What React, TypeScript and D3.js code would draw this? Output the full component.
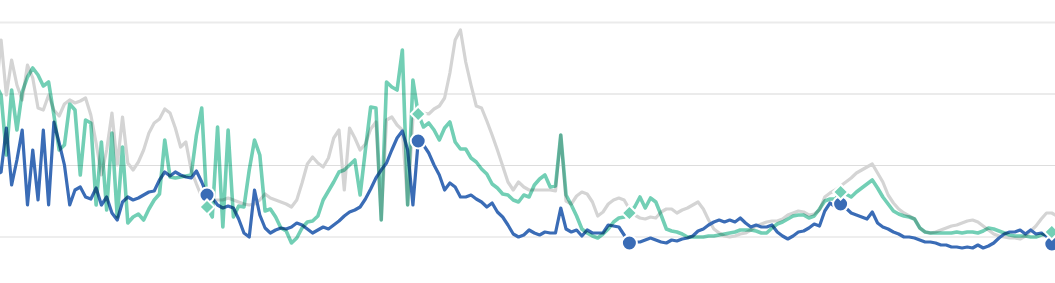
import React from 'react';
import * as d3 from 'd3';

const W = 1055;
const H = 283;

// hidden value axis: four horizontal gridlines
const gridValues = [0, 71.5, 143, 214.5];
// yearly markers (index into the weekly series)
const markerIndex = [40, 80, 120, 160, 200];

const grayValues = [
  142, 197, 142, 177, 152, 137, 172, 159, 129, 127,
  142, 127, 121, 133, 137, 134, 136, 139, 122, 94,
  62, 87, 124, 72, 120, 74, 67, 75, 87, 104,
  114, 118, 128, 124, 109, 90, 95, 67, 53, 40,
  37, 37, 37, 37, 39, 37, 35, 33, 32, 33,
  37, 43, 39, 37, 35, 33, 30, 37, 54, 73,
  80, 74, 70, 79, 99, 107, 47, 109, 99, 87,
  93, 108, 115, 17, 117, 120, 112, 107, 32, 118,
  124, 124, 123, 128, 131, 139, 164, 197, 207, 175,
  152, 131, 129, 116, 102, 87, 71, 55, 47, 55,
  50, 47, 47, 47, 47, 47, 46, 102, 36, 33,
  41, 45, 43, 35, 21, 25, 33, 37, 39, 37,
  28, 22, 19, 18, 20, 19, 25, 28, 28, 24,
  27, 29, 32, 35, 28, 17, 8, 4, 1, 0,
  1, 3, 4, 7, 11, 13, 15, 16, 16, 18,
  22, 24, 26, 25, 22, 23, 27, 40, 44, 47,
  51, 55, 59, 64, 67, 70, 73, 64, 55, 42,
  34, 28, 24, 21, 18, 9, 5, 4, 5, 7,
  9, 11, 12, 14, 16, 17, 15, 11, 7, 3,
  1, 0, -1, -1, -2, 1, 6, 11, 18, 24,
  24, 21,
];

const blueValues = [
  62, 65, 109, 52, 77, 107, 32, 87, 37, 107,
  32, 115, 94, 72, 32, 47, 50, 40, 38, 49,
  32, 40, 24, 17, 35, 40, 37, 39, 42, 45,
  46, 57, 65, 61, 65, 62, 60, 59, 66, 55,
  42, 39, 32, 29, 31, 29, 18, 4, 0, 47,
  22, 9, 4, 7, 9, 8, 10, 14, 12, 8,
  4, 7, 10, 8, 12, 16, 21, 25, 27, 30,
  38, 48, 59, 67, 74, 87, 99, 106, 87, 32,
  96, 92, 84, 72, 62, 47, 54, 50, 40, 40,
  42, 38, 35, 30, 34, 25, 20, 12, 3, 0,
  2, 7, 4, 2, 5, 4, 4, 29, 8, 5,
  7, 1, 7, 4, 4, 4, 12, 11, 10, 2,
  -6, -5, -5, -3, -1, -3, -5, -6, -3, -4,
  -2, -1, 1, 6, 8, 12, 15, 17, 15, 17,
  15, 19, 14, 10, 12, 10, 10, 12, 5, 1,
  -2, 1, 5, 6, 9, 13, 11, 26, 34, 30,
  33, 29, 24, 22, 20, 18, 25, 14, 10, 8,
  5, 3, 0, 0, -1, -3, -5, -5, -6, -8,
  -8, -10, -10, -11, -10, -11, -8, -11, -9, -6,
  -1, 3, 5, 5, 7, 3, 7, 3, 4, 1,
  -7, -3,
];

const tealValues = [
  152, 142, 82, 147, 107, 145, 160, 169, 162, 151,
  155, 122, 87, 92, 133, 127, 62, 117, 114, 32,
  95, 27, 104, 20, 90, 14, 20, 23, 17, 28,
  37, 43, 97, 60, 59, 60, 61, 62, 102, 129,
  30, 20, 110, 10, 107, 20, 31, 30, 67, 97,
  82, 26, 28, 20, 9, 6, -6, -1, 9, 15,
  16, 21, 37, 46, 55, 65, 67, 72, 77, 42,
  87, 130, 129, 17, 155, 150, 147, 187, 32, 157,
  123, 110, 114, 107, 97, 109, 115, 95, 88, 88,
  79, 75, 68, 63, 53, 49, 43, 42, 37, 35,
  42, 40, 52, 58, 62, 50, 51, 102, 42, 32,
  21, 8, 4, 1, -1, 3, 8, 15, 19, 20,
  24, 30, 40, 29, 39, 35, 22, 8, 6, 5,
  3, 0, 0, 0, 0, 1, 1, 2, 3, 4,
  5, 7, 7, 7, 6, 4, 4, 9, 13, 15,
  18, 21, 22, 22, 19, 21, 28, 36, 38, 38,
  45, 43, 40, 45, 49, 53, 57, 49, 40, 33,
  26, 23, 21, 20, 18, 9, 5, 4, 4, 4,
  4, 4, 5, 4, 5, 5, 4, 6, 9, 8,
  6, 4, 2, 1, 1, 1, 0, 0, 2, 3,
  5, 7,
];

const COLORS = { gray: '#d4d4d4', blue: '#3a6cb6', teal: '#72cfb5' };

export default function App() {
  const x = d3.scaleLinear().domain([0, 200]).range([-4.2, 1051.8]);
  const y = d3.scaleLinear().domain([0, 214.5]).range([237, 22.5]);
  const line = d3
    .line<number>()
    .x((_, i) => x(i))
    .y((d) => y(d))
    .curve(d3.curveLinear);
  const diamond = d3.symbol(d3.symbolSquare, 112)();

  return (
    <svg
      width={W}
      height={H}
      style={{ position: 'absolute', left: 0, top: 0, background: '#fff' }}
    >
      <rect x={0} y={0} width={W} height={H} fill="#fff" />
      {gridValues.map((g, i) => (
        <line
          key={i}
          x1={0}
          x2={W}
          y1={y(g)}
          y2={y(g)}
          stroke={i >= 2 ? '#ebebeb' : '#dddddd'}
          strokeWidth={i >= 2 ? 2 : 1.2}
        />
      ))}
      <path d={line(grayValues) || ''} fill="none" stroke={COLORS.gray} strokeWidth={3.2} strokeLinejoin="round" />
      <path d={line(blueValues) || ''} fill="none" stroke={COLORS.blue} strokeWidth={3.2} strokeLinejoin="round" />
      <path
        d={line(tealValues) || ''}
        fill="none"
        stroke={COLORS.teal}
        strokeWidth={3.6}
        strokeLinejoin="round"
        style={{ mixBlendMode: 'multiply' }}
      />
      {markerIndex.map((mi) => (
        <circle key={'c' + mi} cx={x(mi)} cy={y(blueValues[mi])} r={7.5} fill={COLORS.blue} stroke="#fff" strokeWidth={2} />
      ))}
      {markerIndex.map((mi) => (
        <path
          key={'d' + mi}
          d={diamond || ''}
          transform={`translate(${x(mi)},${y(tealValues[mi])}) rotate(45)`}
          fill={COLORS.teal}
          stroke="#fff"
          strokeWidth={2}
        />
      ))}
    </svg>
  );
}
